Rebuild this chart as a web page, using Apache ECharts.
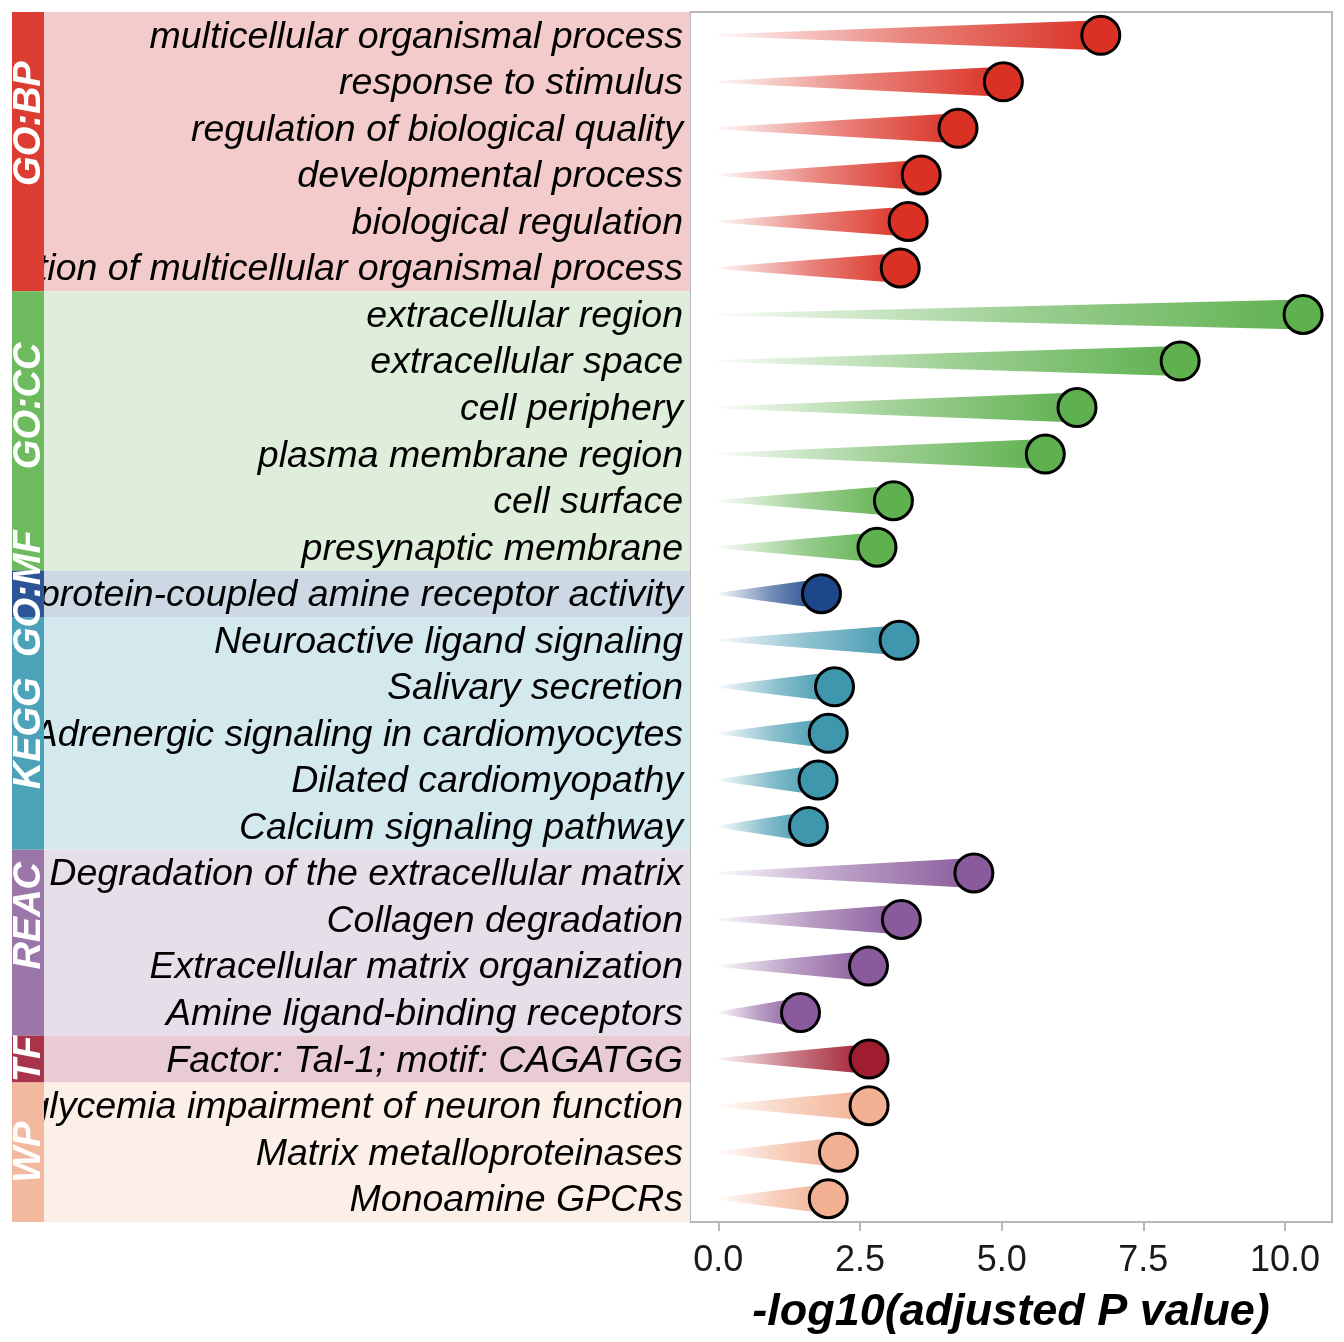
<!DOCTYPE html>
<html style="height: 100%">
<head>
    <meta charset="utf-8">
</head>
<body style="height: 100%; margin: 0; background: #fff">
    <div id="container" style="width: 1344px; height: 1342px"></div>
    <script src="https://cdn.jsdelivr.net/npm/echarts@6/dist/echarts.min.js"></script>
    <script type="text/javascript">
        // enrichment terms, top to bottom
        var terms = [
            'multicellular organismal process', 'response to stimulus', 'regulation of biological quality',
            'developmental process', 'biological regulation', 'regulation of multicellular organismal process',
            'extracellular region', 'extracellular space', 'cell periphery', 'plasma membrane region',
            'cell surface', 'presynaptic membrane',
            'G protein-coupled amine receptor activity',
            'Neuroactive ligand signaling', 'Salivary secretion', 'Adrenergic signaling in cardiomyocytes',
            'Dilated cardiomyopathy', 'Calcium signaling pathway',
            'Degradation of the extracellular matrix', 'Collagen degradation',
            'Extracellular matrix organization', 'Amine ligand-binding receptors',
            'Factor: Tal-1; motif: CAGATGG',
            'Hyperglycemia impairment of neuron function', 'Matrix metalloproteinases', 'Monoamine GPCRs'
        ];
        var values = [
            6.75, 5.03, 4.23, 3.58, 3.35, 3.21,
            10.32, 8.15, 6.33, 5.77, 3.09, 2.80,
            1.82,
            3.19, 2.05, 1.94, 1.76, 1.59,
            4.51, 3.23, 2.65, 1.45,
            2.66,
            2.66, 2.12, 1.94
        ];
        var sources = ['GO:BP', 'GO:CC', 'GO:MF', 'KEGG', 'REAC', 'TF', 'WP'];
        var sourceSizes = [6, 6, 1, 5, 4, 1, 3];
        var stripColors = ['#dc3d33', '#6dbb5e', '#2c5597', '#4ca3b9', '#9a77a8', '#a9334b', '#f3b99e'];
        var bandColors = ['#f4cbcb', '#dfeedb', '#cdd8e5', '#d3e9ee', '#e6dfea', '#e9cbd3', '#fcefe7'];
        var dotColors = ['#da3124', '#5fb14f', '#1c478a', '#3f97ae', '#8a5b9c', '#a01d30', '#f2b193'];
        var labelShift = [-28, -25, 0, 0, -27, 0, 0];
        var xTicks = [0, 2.5, 5, 7.5, 10];

        var FONT = '"Liberation Sans", Arial, Helvetica, sans-serif';
        var xMin = -0.5, xMax = 10.83;

        // source index for each row, and row span of each source
        var rowSource = [];
        var groups = [];
        var start = 0;
        sourceSizes.forEach(function (n, g) {
            for (var k = 0; k < n; k++) rowSource.push(g);
            groups.push([0, start, start + n - 1, g]);
            start += n;
        });

        function rgba(hex, a) {
            var r = parseInt(hex.slice(1, 3), 16), gg = parseInt(hex.slice(3, 5), 16), b = parseInt(hex.slice(5, 7), 16);
            return 'rgba(' + r + ',' + gg + ',' + b + ',' + a + ')';
        }

        function groupSpan(api) {
            var h = api.size([0, 1])[1];
            return {
                top: api.coord([xMin, api.value(1)])[1] - h / 2,
                bot: api.coord([xMin, api.value(2)])[1] + h / 2,
                left: api.coord([xMin, api.value(1)])[0]
            };
        }

        var myChart = echarts.init(document.getElementById('container'));

        var option = {
            animation: false,
            backgroundColor: '#fff',
            grid: {
                left: 690, right: 12, top: 12, bottom: 120,
                show: true, borderColor: '#b8b8b8', borderWidth: 2, backgroundColor: '#fff'
            },
            xAxis: {
                type: 'value',
                min: xMin,
                max: xMax,
                splitLine: { show: false },
                axisLine: { show: false },
                axisTick: {
                    show: true, length: 9, customValues: xTicks,
                    lineStyle: { color: '#b8b8b8', width: 2 }
                },
                axisLabel: {
                    customValues: xTicks,
                    formatter: function (v) { return v.toFixed(1); },
                    fontSize: 36, color: '#1a1a1a', fontFamily: FONT, margin: 21
                },
                name: '-log10(adjusted P value)',
                nameLocation: 'middle',
                nameGap: 68,
                nameTextStyle: {
                    fontSize: 45, fontWeight: 'bold', fontStyle: 'italic', color: '#000', fontFamily: FONT
                }
            },
            yAxis: {
                type: 'category',
                data: terms,
                inverse: true,
                axisLine: { show: false },
                axisTick: { show: false },
                axisLabel: { show: false },
                splitLine: { show: false }
            },
            series: [
                {
                    // light background band of each source
                    type: 'custom',
                    z: 1,
                    clip: false,
                    data: groups,
                    encode: { x: 0, y: 1 },
                    renderItem: function (params, api) {
                        var s = groupSpan(api);
                        return {
                            type: 'rect',
                            shape: { x: 44, y: s.top, width: s.left - 44, height: s.bot - s.top },
                            style: { fill: bandColors[api.value(3)] }
                        };
                    }
                },
                {
                    // term labels
                    type: 'custom',
                    z: 2,
                    clip: false,
                    data: terms.map(function (t, i) { return [xMin, i]; }),
                    encode: { x: 0, y: 1 },
                    renderItem: function (params, api) {
                        var i = api.value(1);
                        var p = api.coord([xMin, i]);
                        return {
                            type: 'text',
                            x: p[0] - 7,
                            y: p[1] + 2,
                            style: {
                                text: terms[i], fill: '#000', align: 'right', verticalAlign: 'middle',
                                fontSize: 37.5, fontStyle: 'italic', fontFamily: FONT
                            }
                        };
                    }
                },
                {
                    // tapered wedges
                    type: 'custom',
                    z: 2,
                    data: values.map(function (v, i) { return [v, i]; }),
                    encode: { x: 0, y: 1 },
                    renderItem: function (params, api) {
                        var i = api.value(1);
                        var p0 = api.coord([0, i]);
                        var p1 = api.coord([api.value(0), i]);
                        var c = dotColors[rowSource[i]];
                        return {
                            type: 'polygon',
                            shape: {
                                points: [[p0[0], p0[1] - 1], [p1[0], p1[1] - 15], [p1[0], p1[1] + 15], [p0[0], p0[1] + 1]]
                            },
                            style: {
                                fill: {
                                    type: 'linear', x: 0, y: 0, x2: 1, y2: 0,
                                    colorStops: [
                                        { offset: 0, color: rgba(c, 0.04) },
                                        { offset: 0.5, color: rgba(c, 0.6) },
                                        { offset: 1, color: rgba(c, 1) }
                                    ]
                                }
                            }
                        };
                    }
                },
                {
                    type: 'scatter',
                    z: 3,
                    symbolSize: 38,
                    data: values.map(function (v, i) {
                        return { value: [v, i], itemStyle: { color: dotColors[rowSource[i]] } };
                    }),
                    itemStyle: { borderColor: '#000', borderWidth: 3, opacity: 1 }
                },
                {
                    // source strips on the far left
                    type: 'custom',
                    z: 5,
                    clip: false,
                    data: groups,
                    encode: { x: 0, y: 1 },
                    renderItem: function (params, api) {
                        var s = groupSpan(api);
                        var g = api.value(3);
                        return {
                            type: 'group',
                            children: [{
                                type: 'rect',
                                shape: { x: 0, y: s.top, width: 12, height: s.bot - s.top },
                                style: { fill: '#fff' }
                            }, {
                                type: 'rect',
                                shape: { x: 12, y: s.top, width: 32, height: s.bot - s.top },
                                style: { fill: stripColors[g] }
                            }, {
                                type: 'text',
                                x: 30,
                                y: (s.top + s.bot) / 2 + labelShift[g],
                                rotation: Math.PI / 2,
                                z2: 10,
                                style: {
                                    text: sources[g], fill: '#fff', align: 'center', verticalAlign: 'middle',
                                    fontSize: 38, fontStyle: 'italic', fontWeight: 'bold', fontFamily: FONT
                                }
                            }]
                        };
                    }
                }
            ]
        };

        myChart.setOption(option);
    </script>
</body>
</html>
